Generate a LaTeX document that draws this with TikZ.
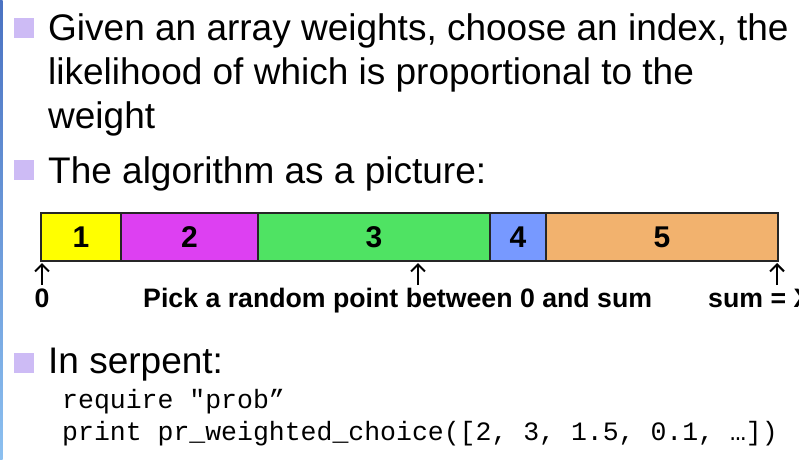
\documentclass[tikz,border=0pt]{standalone}
\usepackage{fontspec}
\setmainfont{Liberation Sans}
\setmonofont{Liberation Mono}
\usetikzlibrary{positioning,arrows.meta}

\definecolor{bulletpurple}{HTML}{CDBBF5}
\definecolor{stripdark}{HTML}{4A72C2}
\definecolor{striplight}{HTML}{8CC0F0}
\definecolor{cellyellow}{HTML}{FFFF00}
\definecolor{cellmagenta}{HTML}{DD40F2}
\definecolor{cellgreen}{HTML}{4FE363}
\definecolor{cellblue}{HTML}{7799FF}
\definecolor{cellorange}{HTML}{F2B26E}

\begin{document}
\begin{tikzpicture}[x=1pt,y=-1pt]
    \tikzset{
        bullet/.style={fill=bulletpurple, minimum size=19.5pt, inner sep=0pt},
        bigtext/.style={anchor=base west, inner sep=0pt, font=\fontsize{37}{44}\selectfont},
        cell/.style={draw=black!85, line width=1.2pt, minimum height=48pt, inner sep=0pt,
            outer sep=0pt, anchor=north west, font=\fontsize{30}{30}\selectfont\bfseries},
        pointer/.style={-{Straight Barb[length=7pt,width=14pt,line width=2pt]},
            line width=2pt, shorten >=2pt},
        axislabel/.style={anchor=base west, inner sep=0pt, font=\fontsize{26.7}{27}\selectfont\bfseries},
        codeline/.style={anchor=base west, inner sep=0pt, font=\fontsize{26.5}{30}\selectfont\ttfamily}
    }
    \useasboundingbox (0,0) rectangle (799,459);

    % slide edge
    \shade[top color=stripdark, bottom color=striplight] (0,0) rectangle (2.5,459);

    % bullets and text
    \node[bullet] (bul1) at (24,28) {};
    \node[bullet] (bul2) at (24,170) {};
    \node[bullet] (bul3) at (24,363) {};
    \node[bigtext] (given) at (48,40) {Given an array weights, choose an index, the};
    \node[bigtext] (likely) at (48,84) {likelihood of which is proportional to the};
    \node[bigtext] (weight) at (48,128) {weight};
    \node[bigtext] (algo) at (48,183) {The algorithm as a picture:};

    % the weights as a bar
    \foreach \i/\x/\w/\c in {%
        1/41/80/cellyellow, 2/121/137/cellmagenta, 3/258/232/cellgreen,
        4/490/56/cellblue, 5/546/232/cellorange%
    }{
        \node[cell, minimum width=\w pt, fill=\c] (c\i) at (\x,213) {\i};
    }

    \coordinate (pzero) at (42,285);
    \coordinate (pmid) at (418,285);
    \coordinate (psum) at (777,285);
    \foreach \p/\c in {pzero/c1, pmid/c3, psum/c5}{
        \draw[pointer] (\p) -- (\p |- \c.south);
    }

    \node[axislabel, anchor=base] (zero) at (42,307) {0};
    \node[axislabel] (pick) at (143,307) {Pick a random point between 0 and sum};
    \node[axislabel] (sumx) at (708,307) {sum = X};

    % code
    \node[bigtext] (serp) at (48,373) {In serpent:};
    \node[codeline] (req) at (62,408) {require "prob”};
    \node[codeline] (call) at (62,440) {print pr\_weighted\_choice([2, 3, 1.5, 0.1, …])};
\end{tikzpicture}
\end{document}
